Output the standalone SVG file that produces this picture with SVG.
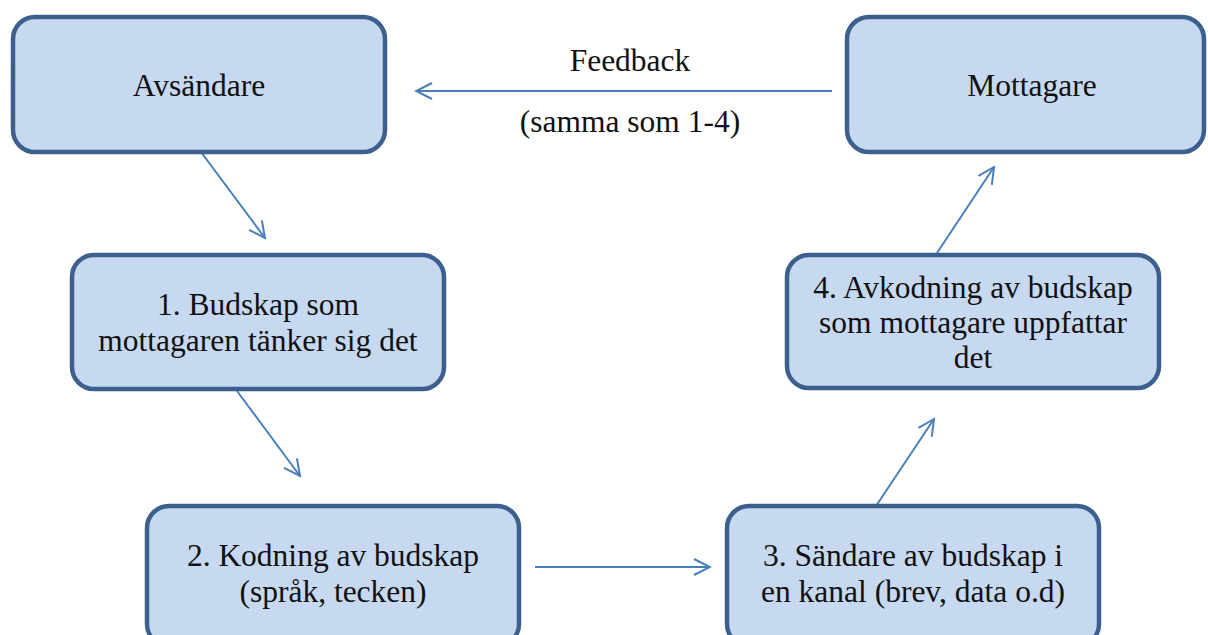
<svg xmlns="http://www.w3.org/2000/svg" width="1208" height="635" viewBox="0 0 1208 635">
<defs>
<style>
.box{fill:#c6d9f1;stroke:#3c5f8e;stroke-width:4.5}
text{font-family:'Liberation Serif',serif;font-size:31.5px;fill:#111;text-anchor:middle}
.c{stroke:#4a7ebb;stroke-width:2;fill:none;marker-end:url(#ah)}
</style>
<marker id="ah" viewBox="0 0 20 20" refX="18" refY="10" markerWidth="20" markerHeight="20" markerUnits="userSpaceOnUse" orient="auto">
<polyline points="2,2 18,10 2,18" fill="none" stroke="#4a7ebb" stroke-width="2"/>
</marker>
</defs>
<rect width="1208" height="635" fill="#fff"/>
<g id="connectors">
<line class="c" x1="201" y1="152" x2="265" y2="238"/>
<line class="c" x1="237" y1="391" x2="300" y2="476"/>
<line class="c" x1="535" y1="567" x2="710" y2="567"/>
<line class="c" x1="876" y1="506" x2="934" y2="419"/>
<line class="c" x1="937" y1="253" x2="994" y2="167"/>
<line class="c" x1="832" y1="91" x2="416" y2="91"/>
<text x="630" y="71">Feedback</text>
<text x="630" y="132">(samma som 1-4)</text>
</g>
<g id="avsandare">
<rect class="box" x="13" y="17" width="372" height="135" rx="22"/>
<text x="199" y="96">Avsändare</text>
</g>
<g id="mottagare">
<rect class="box" x="847" y="17" width="357" height="135" rx="22"/>
<text x="1032" y="96">Mottagare</text>
</g>
<g id="n1">
<rect class="box" x="72" y="255" width="372" height="134" rx="22"/>
<text x="258" y="315">1. Budskap som</text>
<text x="258" y="351">mottagaren tänker sig det</text>
</g>
<g id="n4">
<rect class="box" x="787" y="255" width="372" height="133" rx="22"/>
<text x="973" y="298">4. Avkodning av budskap</text>
<text x="973" y="333">som mottagare uppfattar</text>
<text x="973" y="368">det</text>
</g>
<g id="n2">
<rect class="box" x="147" y="506" width="372" height="140" rx="22"/>
<text x="333" y="566">2. Kodning av budskap</text>
<text x="333" y="602">(språk, tecken)</text>
</g>
<g id="n3">
<rect class="box" x="727" y="506" width="372" height="140" rx="22"/>
<text x="913" y="566">3. Sändare av budskap i</text>
<text x="913" y="602">en kanal (brev, data o.d)</text>
</g>
</svg>
